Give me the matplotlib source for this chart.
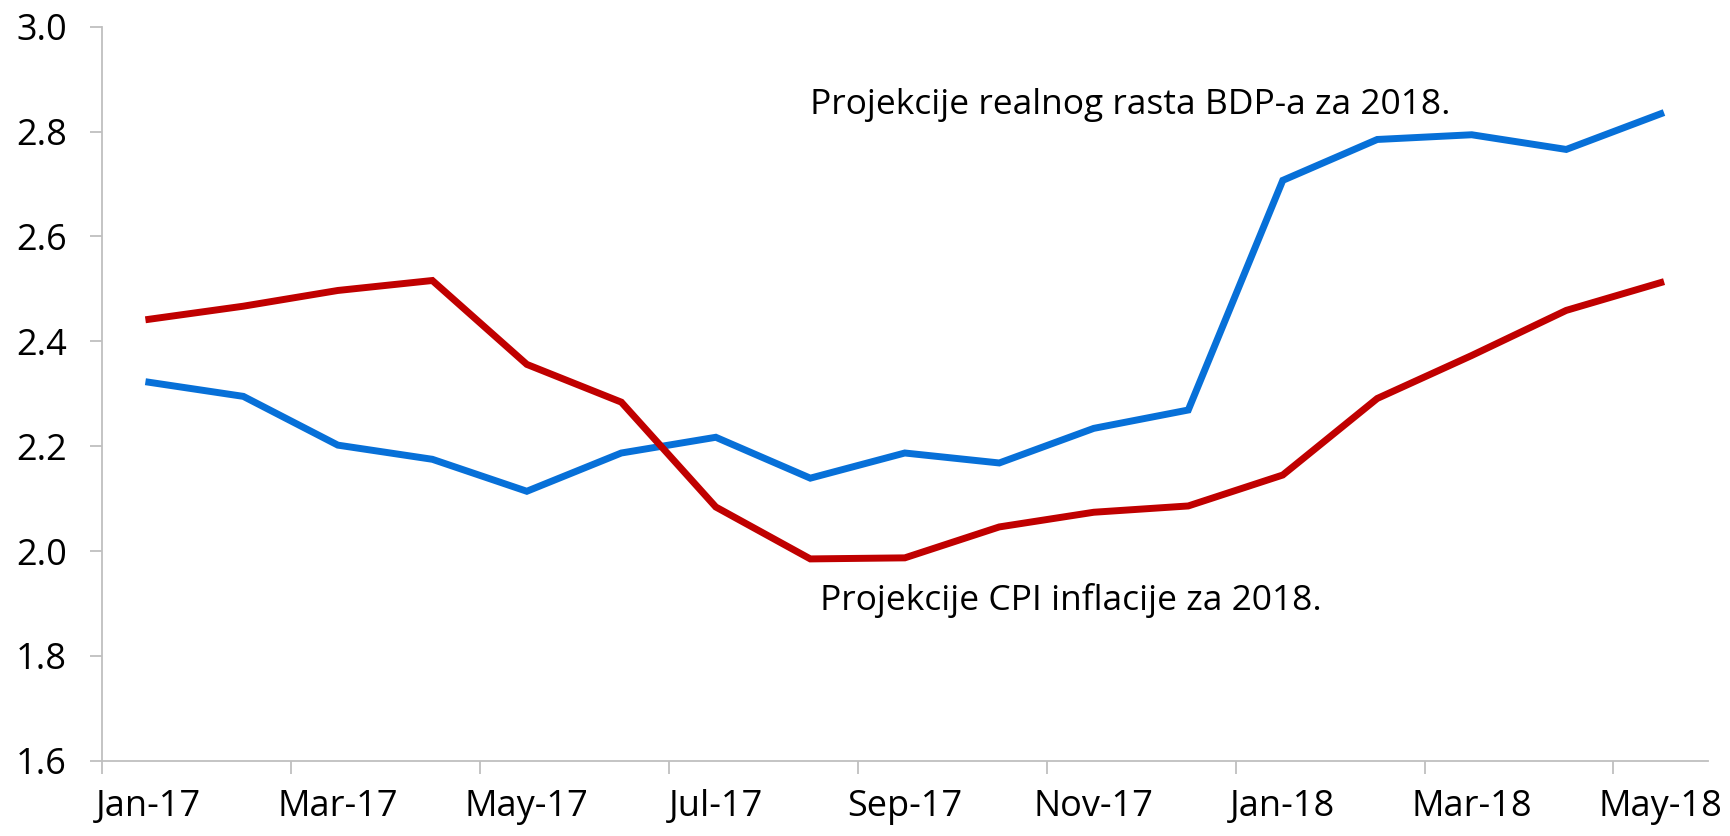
import numpy as np
import matplotlib.pyplot as plt
from matplotlib.ticker import FormatStrFormatter

months = ['Jan-17', 'Feb-17', 'Mar-17', 'Apr-17', 'May-17', 'Jun-17', 'Jul-17', 'Aug-17',
          'Sep-17', 'Oct-17', 'Nov-17', 'Dec-17', 'Jan-18', 'Feb-18', 'Mar-18', 'Apr-18', 'May-18']
bdp = [2.322, 2.295, 2.202, 2.175, 2.114, 2.187, 2.217, 2.139,
       2.187, 2.168, 2.234, 2.269, 2.707, 2.785, 2.794, 2.766, 2.834]
cpi = [2.442, 2.467, 2.497, 2.516, 2.356, 2.284, 2.084, 1.985,
       1.987, 2.046, 2.074, 2.086, 2.145, 2.291, 2.373, 2.459, 2.512]
label_bdp = 'Projekcije realnog rasta BDP-a za 2018.'
label_cpi = 'Projekcije CPI inflacije za 2018.'

plt.rcParams['font.family'] = ['Open Sans', 'DejaVu Sans']

fig = plt.figure(figsize=(17.31, 8.36), dpi=100)
ax = fig.add_axes([0.0587, 0.090, 0.928, 0.878])

x = np.arange(len(months))
ax.plot(x, bdp, color='#0770D8', lw=5, solid_joinstyle='miter')
ax.plot(x, cpi, color='#C00000', lw=5, solid_joinstyle='miter')

ax.text(7.0, 2.85, label_bdp, fontsize=25.5, va='center', ha='left')
ax.text(7.1, 1.905, label_cpi, fontsize=25.5, va='center', ha='left')

ax.set_xlim(-0.5, len(months) - 0.5)
ax.set_ylim(1.6, 3.0)
ax.set_yticks(np.arange(1.6, 3.01, 0.2))
ax.yaxis.set_major_formatter(FormatStrFormatter('%.1f'))

# labels on every second month, ticks between categories
ax.set_xticks(x[::2])
ax.set_xticklabels(months[::2])
ax.set_xticks(np.arange(-0.5, len(months) - 1, 2), minor=True)
ax.tick_params(axis='x', which='major', length=0, pad=20, labelsize=26)
ax.tick_params(axis='x', which='minor', length=9, color='#BFBFBF', width=1.3)
ax.tick_params(axis='y', length=9, color='#BFBFBF', width=1.3, labelsize=26, pad=16)

for s in ['top', 'right']:
    ax.spines[s].set_visible(False)
for s in ['left', 'bottom']:
    ax.spines[s].set_color('#BFBFBF')
    ax.spines[s].set_linewidth(1.3)

fig.savefig('out.png', dpi=100)
